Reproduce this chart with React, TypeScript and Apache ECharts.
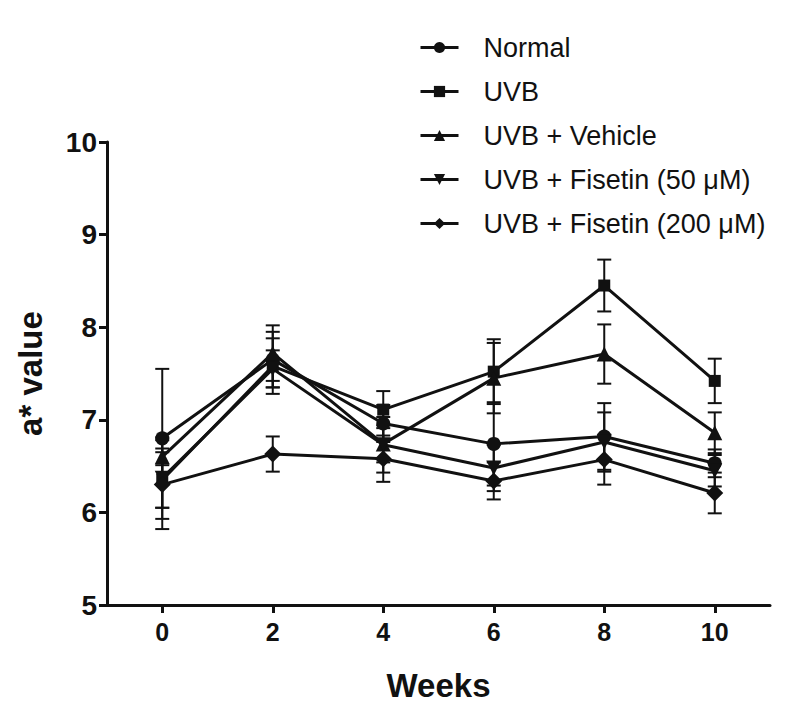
import React, { useEffect, useRef } from "react";
import * as echarts from "echarts";

const weeks = [0, 2, 4, 6, 8, 10];
const seriesNames = [
  "Normal",
  "UVB",
  "UVB + Vehicle",
  "UVB + Fisetin (50 μM)",
  "UVB + Fisetin (200 μM)",
];
const normalMean = [6.8, 7.65, 6.96, 6.74, 6.82, 6.53];
const normalSd = [0.75, 0.3, 0.2, 0.45, 0.36, 0.15];
const uvbMean = [6.35, 7.58, 7.11, 7.52, 8.45, 7.42];
const uvbSd = [0.3, 0.3, 0.2, 0.35, 0.28, 0.24];
const vehicleMean = [6.6, 7.72, 6.74, 7.45, 7.71, 6.86];
const vehicleSd = [0.09, 0.3, 0.2, 0.38, 0.32, 0.22];
const fis50Mean = [6.37, 7.55, 6.73, 6.48, 6.76, 6.45];
const fis50Sd = [0.44, 0.2, 0.3, 0.25, 0.32, 0.17];
const fis200Mean = [6.3, 6.63, 6.58, 6.34, 6.57, 6.21];
const fis200Sd = [0.48, 0.19, 0.25, 0.2, 0.27, 0.22];
const yTicks = [5, 6, 7, 8, 9, 10];

const means = [normalMean, uvbMean, vehicleMean, fis50Mean, fis200Mean];
const sds = [normalSd, uvbSd, vehicleSd, fis50Sd, fis200Sd];
const symbols = ["circle", "rect", "triangle", "triangle", "diamond"];
const symbolSizes = [14, 12, 15, 15, 17];
const rotations = [0, 0, 0, 180, 0];

const INK = "#111111";
const FONT = "Liberation Sans, Arial, sans-serif";

export default function App() {
  const ref = useRef<HTMLDivElement>(null);
  useEffect(() => {
    if (!ref.current) return;
    const chart = echarts.init(ref.current, null, { renderer: "svg" });
    const lineSeries: any[] = seriesNames.map((name, i) => ({
      name,
      type: "line",
      data: weeks.map((w, j) => [w, means[i][j]]),
      symbol: symbols[i],
      symbolSize: symbolSizes[i],
      symbolRotate: rotations[i],
      showAllSymbol: true,
      lineStyle: { color: INK, width: 3 },
      itemStyle: { color: INK, borderWidth: 0 },
      z: 3,
    }));
    const errorSeries: any[] = seriesNames.map((name, i) => ({
      name: name + " err",
      type: "custom",
      data: weeks.map((w, j) => [w, means[i][j] - sds[i][j], means[i][j] + sds[i][j]]),
      renderItem: (params: any, api: any) => {
        const x = api.value(0);
        const lo = api.coord([x, api.value(1)]);
        const hi = api.coord([x, api.value(2)]);
        const hw = 7;
        const style = { stroke: INK, lineWidth: 2 };
        return {
          type: "group",
          children: [
            { type: "line", shape: { x1: lo[0], y1: lo[1], x2: hi[0], y2: hi[1] }, style },
            { type: "line", shape: { x1: lo[0] - hw, y1: lo[1], x2: lo[0] + hw, y2: lo[1] }, style },
            { type: "line", shape: { x1: hi[0] - hw, y1: hi[1], x2: hi[0] + hw, y2: hi[1] }, style },
          ],
        };
      },
      silent: true,
      z: 2,
    }));
    chart.setOption({
      animation: false,
      backgroundColor: "#ffffff",
      textStyle: { fontFamily: FONT },
      legend: {
        data: seriesNames,
        orient: "vertical",
        left: 414,
        top: 29,
        itemWidth: 38,
        itemHeight: 14,
        itemGap: 17,
        lineStyle: { width: 3, color: INK },
        textStyle: {
          fontSize: 27,
          color: INK,
          fontFamily: FONT,
          padding: [0, 0, 0, 20],
        },
      },
      grid: { left: 107, right: 28, top: 142, bottom: 112, containLabel: false },
      xAxis: {
        type: "value",
        min: -1,
        max: 11,
        name: "Weeks",
        nameLocation: "middle",
        nameGap: 64,
        nameTextStyle: { fontSize: 33, fontWeight: "bold", color: INK },
        axisLine: { onZero: false, lineStyle: { color: INK, width: 3 } },
        axisTick: { show: true, length: 8, lineStyle: { color: INK, width: 3 }, customValues: weeks },
        axisLabel: {
          customValues: weeks,
          fontSize: 25,
          fontWeight: "bold",
          color: INK,
          margin: 14,
        },
        splitLine: { show: false },
      },
      yAxis: {
        type: "value",
        min: 5,
        max: 10,
        interval: 1,
        name: "a* value",
        nameLocation: "middle",
        nameGap: 60,
        nameTextStyle: { fontSize: 33, fontWeight: "bold", color: INK },
        axisLine: { show: true, onZero: false, lineStyle: { color: INK, width: 3 } },
        axisTick: { show: true, length: 8, lineStyle: { color: INK, width: 3 }, customValues: yTicks },
        axisLabel: { customValues: yTicks, fontSize: 28, fontWeight: "bold", color: INK, margin: 10 },
        splitLine: { show: false },
      },
      series: [...errorSeries, ...lineSeries],
    });
    return () => chart.dispose();
  }, []);
  return (
    <div
      ref={ref}
      style={{ position: "fixed", left: 0, top: 0, width: 798, height: 717, background: "#fff" }}
    />
  );
}
